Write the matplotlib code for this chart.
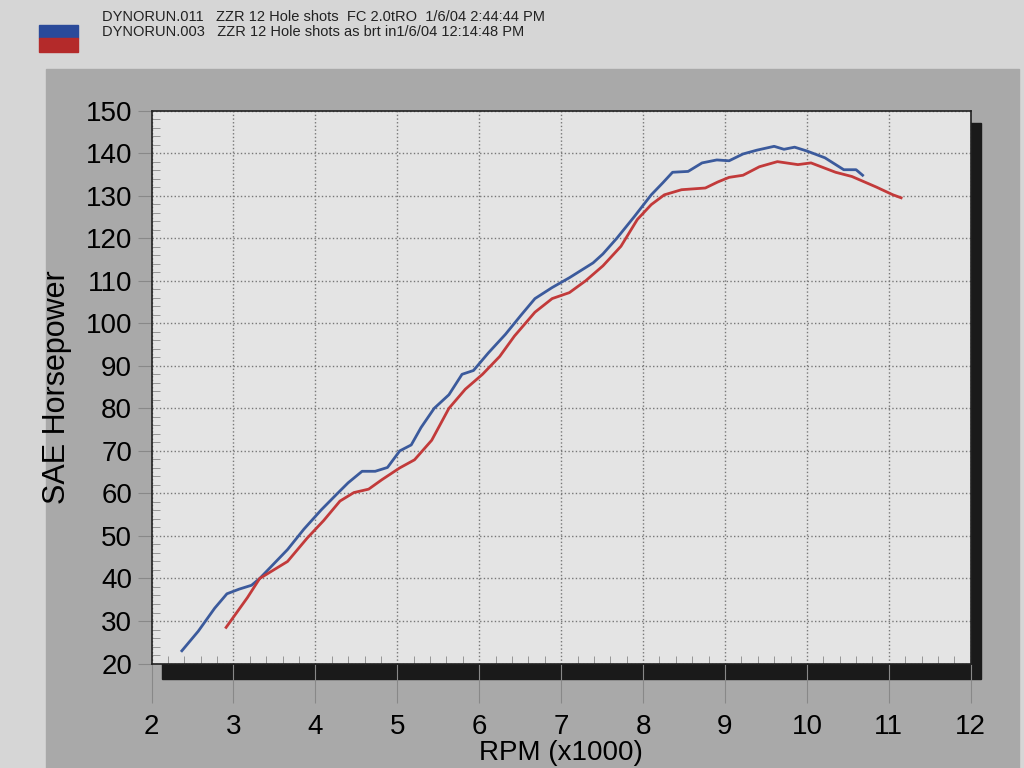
import numpy as np
import matplotlib.pyplot as plt
from matplotlib.patches import Rectangle
from matplotlib.ticker import MultipleLocator

plt.rcParams['font.family'] = ['Liberation Sans', 'DejaVu Sans']

# run 011 (blue) and run 003 (red)
rpm_011 = [2.37, 2.57, 2.77, 2.92, 3.07, 3.22, 3.32, 3.66, 3.86, 4.07, 4.28, 4.40, 4.57,
           4.73, 4.88, 5.03, 5.17, 5.29, 5.45, 5.63, 5.79, 5.93, 6.11, 6.32, 6.51, 6.68,
           6.89, 7.10, 7.39, 7.51, 7.68, 7.89, 8.10, 8.24, 8.36, 8.55, 8.72, 8.90, 9.05,
           9.22, 9.39, 9.60, 9.72, 9.85, 10.00, 10.22, 10.45, 10.60, 10.68]
hp_011 = [23.0, 27.6, 33.0, 36.4, 37.5, 38.4, 40.0, 46.8, 51.6, 56.1, 60.2, 62.5, 65.2,
          65.2, 66.1, 70.0, 71.4, 75.5, 80.0, 83.2, 88.0, 88.9, 93.0, 97.4, 101.9, 105.8,
          108.4, 110.7, 114.2, 116.3, 120.0, 125.0, 130.2, 133.0, 135.5, 135.7, 137.7,
          138.4, 138.2, 139.8, 140.7, 141.6, 140.9, 141.4, 140.5, 138.9, 136.1, 136.1, 134.8]

rpm_003 = [2.91, 3.17, 3.32, 3.66, 3.90, 4.10, 4.30, 4.47, 4.65, 4.81, 5.03, 5.21, 5.42,
           5.63, 5.83, 6.04, 6.25, 6.43, 6.68, 6.89, 7.10, 7.30, 7.51, 7.73, 7.93, 8.10,
           8.26, 8.47, 8.76, 8.91, 9.05, 9.22, 9.42, 9.64, 9.89, 10.05, 10.35, 10.55,
           10.85, 11.05, 11.15]
hp_003 = [28.5, 35.5, 40.0, 44.0, 49.5, 53.6, 58.2, 60.2, 61.0, 63.2, 66.0, 67.9, 72.5,
          80.0, 84.5, 88.0, 92.2, 97.0, 102.6, 105.8, 107.2, 110.0, 113.5, 118.1, 124.4,
          127.9, 130.2, 131.4, 131.8, 133.2, 134.3, 134.8, 136.8, 138.0, 137.3, 137.7,
          135.5, 134.5, 132.0, 130.2, 129.5]

header = ["DYNORUN.011   ZZR 12 Hole shots  FC 2.0tRO  1/6/04 2:44:44 PM",
          "DYNORUN.003   ZZR 12 Hole shots as brt in1/6/04 12:14:48 PM"]
colours = ['#3b5a9c', '#c23a3a']

fig = plt.figure(figsize=(10.24, 7.68), dpi=100, facecolor='#d6d6d6')

# grey panel behind the chart and the drop shadow
fig.patches.append(Rectangle((0.045, 0.0), 0.95, 0.91, transform=fig.transFigure,
                             color='#a9a9a9', zorder=0))
fig.patches.append(Rectangle((0.158, 0.116), 0.8, 0.724, transform=fig.transFigure,
                             color='#1a1a1a', zorder=1))

# legend swatch and header text
fig.patches.append(Rectangle((0.038, 0.950), 0.038, 0.018,
                             transform=fig.transFigure, color='#2a4a9a', zorder=2))
fig.patches.append(Rectangle((0.038, 0.932), 0.038, 0.018,
                             transform=fig.transFigure, color='#b42a2a', zorder=2))
fig.text(0.1, 0.978, header[0], fontsize=10.5, va='center', color='#222222')
fig.text(0.1, 0.958, header[1], fontsize=10.5, va='center', color='#222222')

ax = fig.add_axes([0.148, 0.136, 0.8, 0.72], zorder=3)
ax.set_facecolor('#e4e4e4')
ax.plot(rpm_011, hp_011, color=colours[0], lw=2)
ax.plot(rpm_003, hp_003, color=colours[1], lw=2)

ax.set_xlim(2, 12)
ax.set_ylim(20, 150)
ax.xaxis.set_major_locator(MultipleLocator(1))
ax.xaxis.set_minor_locator(MultipleLocator(0.2))
ax.yaxis.set_major_locator(MultipleLocator(10))
ax.yaxis.set_minor_locator(MultipleLocator(2))
ax.grid(True, which='major', color='#777777', ls=':', lw=1)
ax.tick_params(which='minor', direction='in', length=6, color='#888888')
ax.tick_params(axis='y', which='major', direction='out', length=10, color='#888888',
               labelsize=20, pad=4)
ax.tick_params(axis='x', which='major', direction='out', length=28, color='#888888',
               labelsize=20, pad=8)
for s in ax.spines.values():
    s.set_color('#222222')
    s.set_linewidth(1.2)

ax.set_ylabel('SAE Horsepower', fontsize=22, labelpad=10)
ax.set_xlabel('RPM (x1000)', fontsize=20, labelpad=0)

plt.savefig('out.png', dpi=100, facecolor=fig.get_facecolor())
